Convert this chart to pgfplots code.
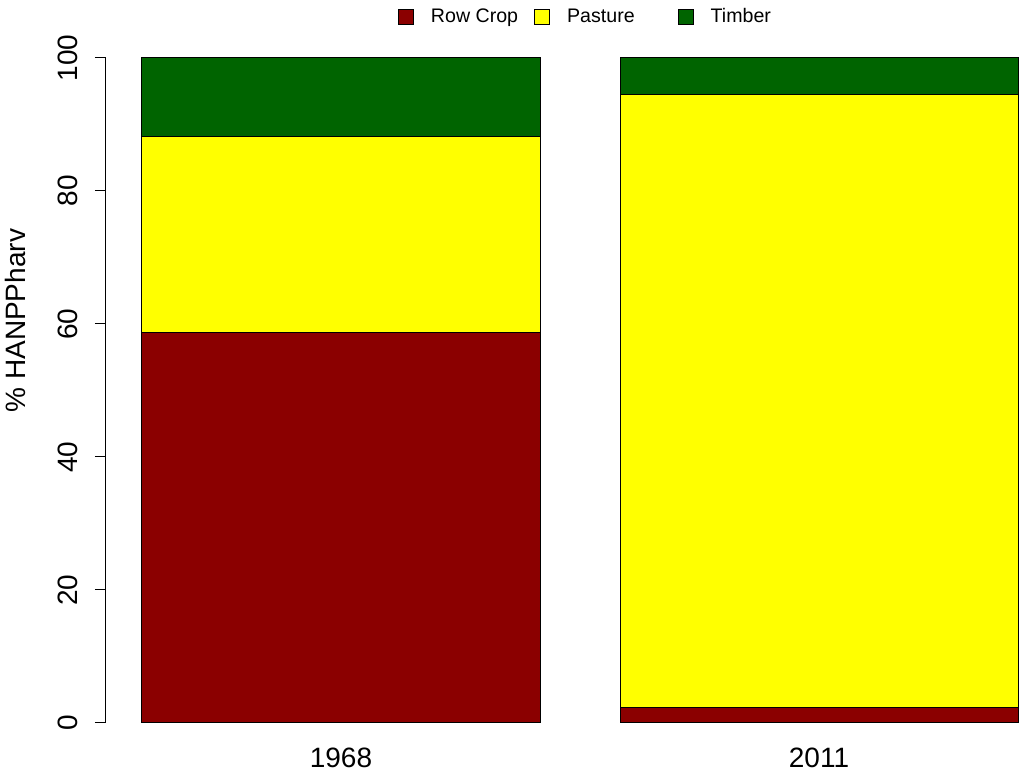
\documentclass[border=0pt]{standalone}
\usepackage{pgfplots}
\pgfplotsset{compat=1.18}
\usepackage{fontspec}
\setmainfont{Liberation Sans}
\definecolor{rowcrop}{HTML}{8B0000}
\definecolor{pasture}{HTML}{FFFF00}
\definecolor{timber}{HTML}{006400}

\begin{document}
\begin{tikzpicture}
    % page = 1024 x 777 px at 0.5pt per px
    \path[use as bounding box] (0,0) rectangle (512pt,388.5pt);
    \begin{axis}[
        at={(53pt,27pt)}, anchor=south west,
        scale only axis,
        width=459pt, height=332.5pt,
        xmin=106, xmax=1024,
        ymin=0, ymax=100,
        ybar stacked,
        bar width=398,
        axis lines*=left,
        x axis line style={draw=none},
        xtick={341,819},
        xticklabels={1968,2011},
        xtick style={draw=none},
        xticklabel style={font=\fontsize{14}{16}\selectfont, inner sep=0pt, yshift=-7pt},
        ytick={0,20,...,100},
        tick align=outside,
        major tick length=5.5pt,
        ytick style={black, line width=0.5pt},
        y axis line style={line width=0.5pt},
        yticklabel style={rotate=90, anchor=south, inner sep=0pt, font=\fontsize{14}{16}\selectfont},
        yticklabel shift=8.5pt,
        /pgf/number format/assume math mode=true,
        clip=false,
        legend columns=3,
        legend style={draw=none, fill=none, inner sep=0pt, outer sep=0pt,
            at={(axis cs:398,106.2)}, anchor=west,
            font=\fontsize{9.8}{11}\selectfont,
            nodes={inner sep=0pt}},
        legend image code/.code={
            \draw[#1, draw=black, line width=0.5pt] (0pt,-3.75pt) rectangle (7.5pt,3.75pt);
            \path (16pt,0pt);
        },
    ]
        \addplot[fill=rowcrop, draw=black, line width=0.5pt] coordinates {(341,58.65) (819,2.26)};
        \addlegendentry{Row Crop\rule{8pt}{0pt}}
        \addplot[fill=pasture, draw=black, line width=0.5pt] coordinates {(341,29.47) (819,92.18)};
        \addlegendentry{Pasture\rule{21.5pt}{0pt}}
        \addplot[fill=timber, draw=black, line width=0.5pt] coordinates {(341,11.88) (819,5.56)};
        \addlegendentry{Timber}
        \node[rotate=90, anchor=base, font=\fontsize{14}{16}\selectfont] at (axis cs:26,60.5) {\% HANPPharv};
    \end{axis}
\end{tikzpicture}
\end{document}
